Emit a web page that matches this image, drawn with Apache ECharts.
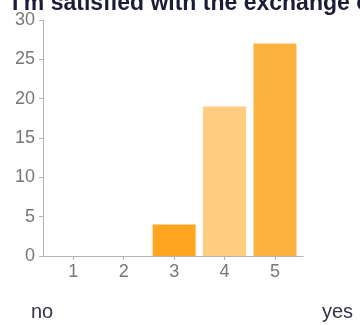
<!DOCTYPE html>
<html>
<head>
<meta charset="utf-8">
<script src="https://cdn.jsdelivr.net/npm/echarts@6/dist/echarts.min.js"></script>
<style>
html,body{margin:0;padding:0;background:#fff;}
#c{width:360px;height:325px;}
</style>
</head>
<body>
<div id="c"></div>
<script>
var titleText = "I'm satisfied with the exchange of information";
var categories = [1, 2, 3, 4, 5];
var values = [0, 0, 4, 19, 27];
var barColors = ['#ffa31a', '#ffa31a', '#ffa51f', '#ffcc80', '#ffb13f'];
var yTicks = [0, 5, 10, 15, 20, 25, 30];
var leftLabel = 'no';
var rightLabel = 'yes';

var chart = echarts.init(document.getElementById('c'), null, {renderer: 'canvas'});
var font = 'Liberation Sans, Arial, sans-serif';
var option = {
  animation: false,
  title: {
    text: titleText,
    left: 7,
    top: -13,
    textStyle: {fontFamily: font, fontSize: 23, fontWeight: 'bold', color: '#1c1c38'}
  },
  grid: {left: 43, right: 57, top: 20, bottom: 69, containLabel: false},
  xAxis: {
    type: 'value',
    min: 0.4,
    max: 5.555,
    axisLine: {show: true, lineStyle: {color: '#b4b4b4', width: 1}},
    axisTick: {show: true, length: 4, customValues: categories, lineStyle: {color: '#b4b4b4'}},
    axisLabel: {customValues: categories, fontFamily: font, fontSize: 18, color: '#777', margin: 7},
    splitLine: {show: false}
  },
  yAxis: {
    type: 'value',
    min: 0,
    max: 30,
    interval: 5,
    axisLine: {show: true, lineStyle: {color: '#b4b4b4', width: 1}},
    axisTick: {show: true, length: 4, lineStyle: {color: '#b4b4b4'}},
    axisLabel: {fontFamily: font, fontSize: 18, color: '#777', margin: 8},
    splitLine: {show: false}
  },
  graphic: [
    {type: 'text', left: 31, top: 302, style: {text: leftLabel, font: '20px ' + font, fill: '#33334a'}},
    {type: 'text', left: 322, top: 302, style: {text: rightLabel, font: '20px ' + font, fill: '#33334a'}}
  ],
  series: [{
    type: 'bar',
    barWidth: 43,
    data: categories.map(function (c, i) {
      return {value: [c, values[i]], itemStyle: {color: barColors[i]}};
    })
  }]
};
chart.setOption(option);
</script>
</body>
</html>
